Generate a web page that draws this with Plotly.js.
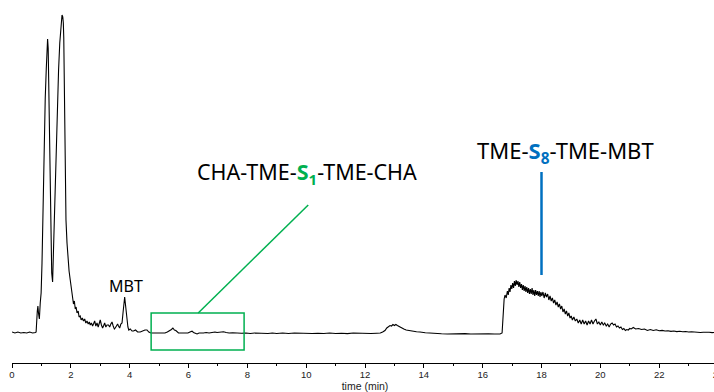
<!DOCTYPE html>
<html>
<head>
<meta charset="utf-8">
<script src="https://cdn.plot.ly/plotly-3.0.1.min.js"></script>
<style>
html,body{margin:0;padding:0;overflow:hidden;background:#fff;}
#chart{width:724px;height:392px;}
</style>
</head>
<body>
<div id="chart"></div>
<script>
// Retention time (min)
const time = [
0,0.1,0.2,0.3,0.4,0.5,0.6,0.7,0.8,0.82,
0.86,0.88,0.90,0.93,0.96,0.99,1.02,1.06,1.10,1.13,1.165,1.19,1.21,1.23,1.25,1.284,1.318,1.35,1.38,1.403,1.43,1.454,1.505,1.549,1.583,1.624,1.658,1.68,1.70,1.726,1.745,1.76,1.787,1.81,1.835,1.87,1.896,1.94,1.98,2.02,2.05,2.09,
2.12,2.15,2.18,2.21,2.25,2.28,2.32,2.35,2.39,2.43,2.47,2.51,2.55,2.59,2.63,2.66,2.70,2.74,2.77,2.81,2.85,2.89,2.93,2.97,3.00,3.04,3.08,3.11,3.15,3.19,3.23,3.28,3.32,3.36,3.40,3.44,3.48,3.51,3.55,3.59,3.62,3.66,3.70,3.74,3.78,3.83,3.87,3.91,3.94,3.97,
4.02,4.08,4.13,4.2,4.27,4.36,4.44,4.52,4.59,4.65,4.72,4.81,4.9,5.0,5.08,5.14,5.2,5.28,5.36,5.42,5.47,5.52,5.57,5.62,5.66,5.72,5.8,5.9,5.98,6.05,6.12,6.17,6.23,6.29,6.36,6.45,6.51,6.6,6.7,6.8,6.9,6.97,7.05,7.12,7.19,7.28,7.38,7.5,7.6,7.7,7.8,7.95,
8.1,8.25,8.4,8.55,8.7,8.85,9.0,9.2,9.4,9.6,9.8,10.0,10.2,10.4,10.6,10.8,11.0,11.2,11.4,11.6,11.8,12.0,12.2,12.4,12.52,12.6,12.68,12.74,12.8,12.85,12.9,12.95,13.0,13.05,13.1,13.15,13.2,13.26,13.32,13.4,13.47,13.55,13.65,13.75,13.87,13.95,
14.05,14.2,14.35,14.45,14.6,14.8,15.0,15.2,15.4,15.6,15.8,16.0,16.2,16.4,16.59,16.66,16.70,16.73,16.76,
16.80,16.84,16.87,16.90,16.93,16.96,16.99,17.02,17.05,17.08,17.11,17.14,17.17,17.20,17.23,17.26,17.29,17.32,17.35,17.38,17.41,17.44,17.47,17.50,17.53,17.56,17.59,17.62,17.65,17.68,17.71,17.74,17.77,17.80,17.83,17.86,17.89,17.92,17.95,17.98,
18.01,18.05,18.09,18.13,18.17,18.21,18.25,18.29,18.33,18.37,18.41,18.45,18.49,18.53,18.57,18.61,18.65,18.69,18.73,18.77,18.81,18.85,18.89,18.93,18.97,19.01,19.05,19.10,19.15,19.20,19.25,19.30,19.35,19.40,19.45,19.50,19.55,19.60,19.65,19.70,19.75,19.80,19.85,19.90,19.95,
20.0,20.05,20.10,20.15,20.2,20.25,20.3,20.35,20.4,20.45,20.5,20.55,20.6,20.65,20.7,20.75,20.8,20.85,20.9,20.95,21.0,21.05,21.12,21.2,21.3,21.4,21.5,21.6,21.7,21.8,21.9,22.0,22.1,22.2,22.3,22.4,22.5,22.6,22.7,22.8,22.9,23.0,23.1,23.2,23.3,23.4,23.5,23.6,23.7,23.8,23.9,24.0
];
// Detector signal (a.u.)
const signal = [
1,0,1,0,0.5,0,1,0,0.5,1,
22,27,20,14,30,40,70,140,200,235,264,280,294,285,250,180,110,60,51,75,110,140,200,240,263,290,305,312,318,316,310,295,215,150,113,90,76,62,53,45,40,29,
32,24,26,20,22,16,17,13,15,12,14,10,12,9,11,8,10,7,9,12,7,10,6,9,13,8,5,7,10,6,8,8,6,9,11,7,4,5,8,9,7,5,9,10,22,36,25,12,6,3,
4,2,2,3,1,1,2,3,3,1,0,0,0.5,0,0,0.5,0,1,2,3.5,5,3,2.5,1,0,0,0,0.5,0,1,1.8,0.5,0,-1,0,-0.3,0,0.5,0,0.5,1,0.5,0.8,1,1.2,0.5,0,0.3,0,0.3,-0.2,0,
-0.5,0,-0.3,0,-0.5,0,-0.5,0,-0.5,0,-0.3,0,-0.5,-0.2,-0.5,0,-0.5,-0.2,-0.6,0,-0.4,-0.2,-0.5,-0.2,0,1,2.5,5,6,7.5,7,8.5,7.5,8.5,7.5,6.5,6,4.5,4,3,2.5,2,1.5,1.2,1,0.5,
0.3,0,-0.5,-1,-0.8,-1,-0.7,-1,-0.6,-1,-0.8,-1,-0.7,-1,-1,0,25,34,38,
35,42,38,45,41,48,44,50,45,52,47,53,48,52,46,51,45,49,43,48,42,47,41,46,40,45,39,44,39,45,38,43,37,43,38,42,37,42,36,41,
37,41,35,40,36,39,33,37,32,35,30,33,28,31,26,29,24,27,21,24,19,22,17,20,15,17,13,16,12,14,10,13,9,13,9,12,8,12,9,13,9,12,14,9,11,
8,11,8,10,7,9,6,9,10,8,9,6,7,5,6,3.5,4.5,2.5,3.5,3,4.5,4,5.5,4,4.5,3.5,4,2.5,3.5,2.5,3.2,2.2,2.6,2,2.2,1.6,2,1.4,1.8,1.2,1.5,1,1.3,0.8,0.9,0.5,0.8,0.4,0.7,0.4,0.6,0.5
];
const xTickVals = [0,2,4,6,8,10,12,14,16,18,20,22,24];
const xTickText = ["0","2","4","6","8","10","12","14","16","18","20","22","24"];

const GREEN = "#00B050";
const BLUE = "#0070C0";
const LABEL_FONT = "Noto Sans, Liberation Sans, sans-serif";
const AXIS_FONT = "Liberation Sans, Arial, sans-serif";

const trace = {
  x: time, y: signal, type: "scatter", mode: "lines",
  line: {color: "#000", width: 1.1}, hoverinfo: "skip"
};

const layout = {
  width: 724, height: 392,
  margin: {l: 12, r: 6, t: 0, b: 29},
  paper_bgcolor: "#fff", plot_bgcolor: "#fff",
  showlegend: false,
  xaxis: {
    range: [0, 24], tickvals: xTickVals, ticktext: xTickText,
    ticks: "outside", ticklen: 4, tickwidth: 1, tickcolor: "#000",
    showline: true, linecolor: "#000", linewidth: 1,
    showgrid: false, zeroline: false,
    minor: {dtick: 1, tick0: 0, ticks: "outside", ticklen: 2, tickcolor: "#000", showgrid: false},
    tickfont: {family: AXIS_FONT, size: 9.5, color: "#222"},
    ticklabelstandoff: -1,
    title: {text: "time (min)", font: {family: AXIS_FONT, size: 10.5, color: "#222"}, standoff: 2}
  },
  yaxis: {range: [-30, 333], visible: false, showgrid: false, zeroline: false},
  shapes: [
    {type: "rect", xref: "x", yref: "y", x0: 4.73, x1: 7.89, y0: -17, y1: 20, line: {color: GREEN, width: 1.5}},
    {type: "line", xref: "x", yref: "y", x0: 6.33, y0: 20, x1: 10.07, y1: 128, line: {color: GREEN, width: 1.5}},
    {type: "line", xref: "x", yref: "y", x0: 18.0, y0: 58, x1: 18.0, y1: 161, line: {color: BLUE, width: 2.5}}
  ],
  annotations: [
    {x: 3.89, y: 47, xref: "x", yref: "y", showarrow: false, text: "MBT",
     font: {family: LABEL_FONT, size: 16, color: "#000"}},
    {x: 10.04, y: 160, xref: "x", yref: "y", showarrow: false,
     text: "CHA-TME-<b><span style='color:" + GREEN + "'>S<sub>1</sub></span></b>-TME-CHA",
     font: {family: LABEL_FONT, size: 21.5, color: "#000"}},
    {x: 18.8, y: 181, xref: "x", yref: "y", showarrow: false,
     text: "TME-<b><span style='color:" + BLUE + "'>S<sub>8</sub></span></b>-TME-MBT",
     font: {family: LABEL_FONT, size: 22, color: "#000"}}
  ]
};

Plotly.newPlot("chart", [trace], layout, {displayModeBar: false, staticPlot: true});
</script>
</body>
</html>
